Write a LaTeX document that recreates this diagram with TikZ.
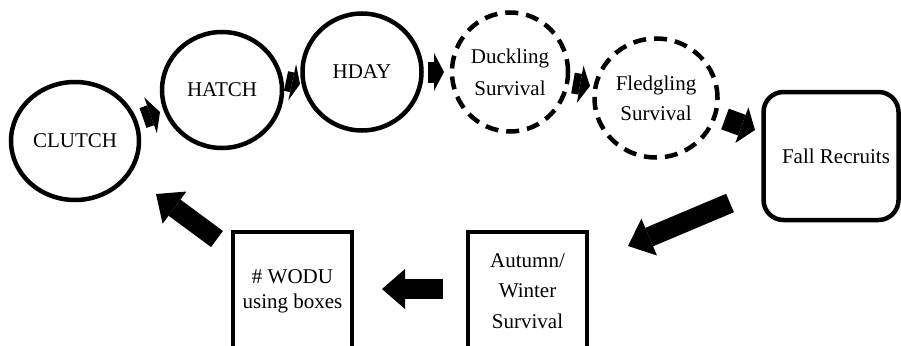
\documentclass[tikz,border=0pt]{standalone}
\usepackage{fontspec}
\setmainfont{Liberation Serif}
\usetikzlibrary{shapes.geometric,arrows.meta}
\tikzset{
  x=1pt, y=-1pt,
  oval/.style={ellipse, draw=black, line width=4.5pt, inner sep=0pt, align=center,
    font=\fontsize{21}{25}\selectfont},
  dashoval/.style={oval, dash pattern=on 13pt off 8pt},
  box/.style={rectangle, draw=black, line width=4.5pt, inner sep=0pt, align=center,
    font=\fontsize{21}{25}\selectfont},
  blk/.style n args={3}{draw=black, line width=#1,
    -{Triangle[length=#2, width=#3, line width=0pt]}},
  small/.style={blk={21pt}{10pt}{38pt}},
  big/.style={blk={20pt}{23pt}{40pt}}
}
\begin{document}
\begin{tikzpicture}
\useasboundingbox (0,0) rectangle (901,345);
\node[oval, minimum width=128pt, minimum height=118pt] (clutch) at (75,141) {CLUTCH};
\node[oval, minimum width=120pt, minimum height=116pt] (hatch) at (222,90) {HATCH};
\node[oval, minimum width=119pt, minimum height=117pt] (hday) at (362,72) {HDAY};
\node[dashoval, minimum width=116pt, minimum height=119pt] (duck) at (510,72) {Duckling\\[7pt]Survival};
\node[dashoval, minimum width=123pt, minimum height=119pt] (fledg) at (656,98) {Fledgling\\[5pt]Survival};
\node[box, rounded corners=20pt, minimum width=135pt, minimum height=128pt] (fall) at (831,156) {\hspace*{10pt}Fall Recruits};
\node[box, minimum width=119pt, minimum height=118pt] (wodu) at (292.5,291) {\# WODU\\using boxes};
\node[box, minimum width=119pt, minimum height=118pt] (autumn) at (527.5,291) {Autumn/\\[5pt]Winter\\[6pt]Survival};

\draw[small] ([shift={(68,-23)}]clutch.center) -- ([shift={(-62,22)}]hatch.center);
\draw[blk={20pt}{8pt}{37pt}] ([shift={(64,-9)}]hatch.center) -- ([shift={(-62,12)}]hday.center);
\draw[small] ([shift={(66,0)}]hday.center) -- ([shift={(-66,0)}]duck.center);
\draw[small] ([shift={(63,11)}]duck.center) -- ([shift={(-66,-12)}]fledg.center);
\draw[blk={22pt}{14pt}{38pt}] ([shift={(69,21)}]fledg.center) -- ([shift={(-76,-26)}]fall.center);
\draw[big] ([shift={(-101,47)}]fall.center) -- ([shift={(100.5,-45)}]autumn.center);
\draw[big] ([shift={(-84.5,-2)}]autumn.center) -- ([shift={(89.5,-2)}]wodu.center);
\draw[big] ([shift={(-75.5,-52)}]wodu.center) -- ([shift={(81,53)}]clutch.center);
\end{tikzpicture}
\end{document}
